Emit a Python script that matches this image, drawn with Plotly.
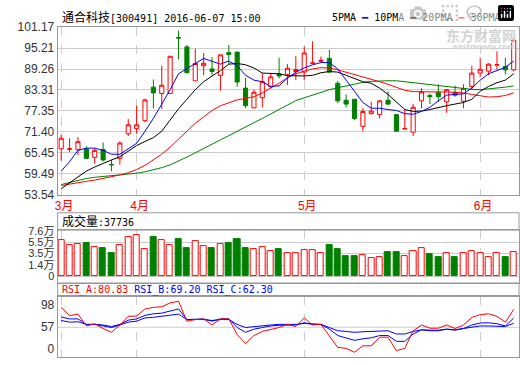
import plotly.graph_objects as go

# ---------------- data ----------------
dates = (
    ["2016-03-%02d" % d for d in [21, 22, 23, 24, 25, 28, 29, 30, 31]]
    + ["2016-04-%02d" % d for d in [1, 5, 6, 7, 8, 11, 12, 13, 14, 15, 18, 19, 20, 21, 22, 25, 26, 27, 28, 29]]
    + ["2016-05-%02d" % d for d in [3, 4, 5, 6, 9, 10, 11, 12, 13, 16, 17, 18, 19, 20, 23, 24, 25, 26, 27, 30, 31]]
    + ["2016-06-%02d" % d for d in [1, 2, 3, 6, 7]]
)

open_ = [66.56, 66.40, 66.29, 66.56, 64.11, 66.38, 62.10, 63.84, 70.84, 72.29,
         74.56, 84.10, 82.29, 82.29, 98.20, 95.56, 85.90, 90.20, 89.29, 87.47,
         93.92, 94.10, 83.83, 78.20, 81.10, 84.29, 87.83, 87.74, 88.56, 88.38,
         90.90, 91.47, 92.29, 85.20, 80.38, 80.65, 72.93, 76.56, 76.29, 80.38,
         76.29, 72.20, 71.29, 80.20, 81.74, 82.65, 79.92, 82.65, 80.11, 84.29,
         88.11, 88.65, 90.38, 90.02, 89.02]
high = [70.65, 69.56, 69.90, 67.29, 66.74, 68.38, 63.38, 68.65, 75.00, 78.83,
        80.83, 86.29, 90.20, 92.90, 100.20, 96.10, 95.00, 93.80, 92.65, 93.29,
        96.10, 94.10, 86.74, 83.38, 88.10, 87.92, 92.47, 90.65, 92.90, 95.65,
        97.20, 92.83, 94.74, 85.92, 82.02, 80.65, 78.10, 79.92, 80.47, 82.92,
        76.29, 77.74, 79.29, 83.83, 82.29, 84.92, 83.56, 84.56, 84.92, 90.20,
        92.47, 90.92, 94.29, 92.47, 97.47]
low = [63.20, 65.65, 64.74, 63.60, 62.29, 62.93, 60.20, 62.02, 70.20, 70.84,
       74.10, 78.10, 77.90, 82.20, 92.00, 88.10, 85.90, 87.47, 87.47, 83.10,
       90.65, 84.20, 78.10, 78.20, 78.38, 83.83, 86.56, 84.74, 86.10, 86.10,
       90.65, 91.10, 88.10, 79.56, 78.38, 74.74, 71.56, 76.29, 75.20, 79.02,
       71.38, 72.20, 70.20, 78.10, 79.29, 79.92, 76.83, 81.38, 78.10, 83.38,
       87.02, 87.47, 89.10, 87.74, 88.56]
close = [69.56, 66.56, 68.56, 63.84, 66.11, 63.38, 62.00, 68.20, 73.38, 73.38,
         80.47, 82.47, 84.65, 92.90, 98.10, 88.20, 90.83, 90.90, 88.56, 93.29,
         93.38, 85.56, 78.83, 82.65, 85.65, 87.02, 87.29, 89.47, 89.10, 93.83,
         91.00, 91.74, 88.38, 80.20, 79.29, 75.20, 77.20, 77.29, 80.20, 79.29,
         71.56, 72.29, 78.38, 82.74, 81.38, 81.38, 83.38, 81.83, 83.74, 88.11,
         89.20, 90.65, 90.47, 89.02, 97.47]

ma5 = [60.2, 62.9, 66.1, 66.74, 66.74, 66.1, 65.0, 65.0, 66.56, 68.1,
       71.56, 75.2, 79.29, 83.38, 87.92, 89.29, 90.83, 92.29, 91.56, 90.65,
       91.56, 90.2, 87.47, 86.1, 85.65, 84.29, 84.47, 86.7, 88.38, 89.56,
       90.47, 91.1, 91.1, 89.29, 86.1, 82.92, 79.74, 78.1, 78.1, 77.74,
       77.47, 76.56, 76.38, 77.2, 78.38, 80.2, 81.83, 82.02, 82.2, 83.83,
       86.1, 87.92, 88.83, 89.74, 91.56]
ma10 = [55.2, 56.8, 58.65, 60.2, 61.38, 62.47, 63.38, 64.29, 65.83, 67.47,
        68.65, 69.74, 71.56, 74.74, 77.92, 80.65, 83.38, 85.65, 87.2, 88.83,
        90.65, 90.83, 90.47, 89.56, 88.11, 87.92, 87.92, 87.38, 87.29, 87.29,
        87.47, 88.2, 88.56, 88.38, 87.47, 86.56, 85.65, 85.2, 83.83, 82.02,
        79.74, 77.74, 77.2, 77.29, 77.74, 78.38, 78.83, 79.29, 79.74, 80.65,
        82.92, 84.29, 85.38, 86.1, 87.92]
ma20 = [56.1, 56.56, 57.02, 57.29, 57.65, 58.11, 58.56, 59.11, 59.74, 60.65,
        61.84, 63.38, 65.02, 67.02, 69.29, 71.56, 73.83, 75.65, 77.47, 78.8,
        79.65, 80.47, 80.9, 81.4, 82.47, 83.83, 85.2, 86.8, 87.92, 88.65,
        89.29, 89.65, 89.56, 89.02, 88.38, 87.74, 87.02, 86.38, 85.65, 84.92,
        84.1, 83.2, 82.83, 82.74, 82.74, 82.74, 82.74, 82.65, 82.47, 82.02,
        81.56, 81.29, 81.38, 81.74, 82.47]
ma30 = [56.38, 57.0, 57.6, 58.1, 58.45, 58.65, 58.85, 59.05, 59.3, 59.6,
        60.0, 60.5, 61.2, 62.0, 63.0, 64.2, 65.4, 66.7, 67.9, 69.1,
        70.3, 71.6, 72.8, 74.0, 75.2, 76.4, 77.6, 79.0, 80.3, 81.1,
        81.83, 82.65, 83.38, 83.92, 84.47, 85.02, 85.47, 85.74, 85.92, 85.92,
        85.92, 85.65, 85.38, 85.02, 84.65, 84.38, 84.1, 83.83, 83.56, 83.47,
        83.38, 83.56, 83.74, 84.1, 84.47]

volume = [59300, 50640, 52360, 54680, 47160, 44270, 35610, 50640, 64500, 67970,
          43700, 65080, 59300, 50640, 61620, 44270, 58150, 48900, 44270, 52360,
          52950, 61620, 44270, 42550, 46010, 39070, 42550, 35610, 35610, 40810,
          40810, 35610, 49480, 42550, 30410, 30410, 32150, 26940, 28670, 37350,
          37350, 30410, 39070, 44270, 33870, 28670, 35030, 28670, 35030, 39070,
          35030, 28670, 35030, 28670, 37736]

rsi_a = [83.5, 72.4, 74.5, 58.7, 61.7, 55.3, 50.2, 60.0, 71.5, 71.9,
         81.4, 83.5, 84.3, 89.5, 91.6, 65.1, 67.2, 68.1, 60.0, 68.1,
         68.1, 47.2, 35.2, 45.9, 51.4, 54.0, 56.6, 60.8, 57.9, 69.4,
         60.0, 60.8, 45.9, 30.1, 28.8, 23.7, 32.2, 32.2, 43.7, 43.7,
         25.8, 28.8, 52.3, 60.0, 55.7, 55.7, 60.0, 55.3, 60.0, 70.2,
         73.7, 75.0, 71.5, 63.8, 80.83]
rsi_b = [70.7, 68.1, 68.1, 60.8, 60.8, 60.0, 57.9, 60.8, 66.4, 68.1,
         72.8, 74.9, 75.8, 78.8, 81.4, 67.2, 68.1, 68.1, 65.1, 68.1,
         68.1, 56.6, 50.2, 54.4, 56.6, 58.7, 59.6, 60.0, 60.0, 63.0,
         60.8, 60.8, 54.4, 45.9, 42.5, 39.5, 41.6, 42.9, 45.9, 45.9,
         38.2, 38.2, 48.0, 53.6, 52.3, 52.3, 54.4, 53.1, 55.3, 60.0,
         62.6, 63.0, 61.7, 58.7, 69.20]
rsi_c = [66.0, 63.8, 64.3, 60.8, 60.8, 58.7, 56.6, 60.0, 63.8, 65.1,
         69.4, 70.2, 71.5, 73.2, 74.5, 67.2, 67.2, 67.2, 66.0, 67.2,
         67.2, 60.8, 56.6, 57.9, 58.7, 60.0, 60.8, 60.8, 60.8, 62.1,
         61.7, 60.8, 56.6, 52.3, 51.4, 50.2, 51.0, 51.4, 52.3, 52.3,
         48.0, 48.0, 51.4, 53.6, 53.1, 53.1, 54.4, 53.6, 55.3, 57.5,
         58.7, 58.7, 57.9, 57.9, 62.30]

price_ticks = [53.54, 59.49, 65.45, 71.40, 77.35, 83.31, 89.26, 95.21, 101.17]
price_labels = ["53.54", "59.49", "65.45", "71.40", "77.35", "83.31", "89.26", "95.21", "101.17"]
month_ticks = ["2016-03-21", "2016-04-01", "2016-05-03", "2016-06-01"]
month_labels = ["3月", "4月", "5月", "6月"]
VOL_FLOOR = -6000          # value at the bottom of the volume bars (labelled "0")
vol_ticks = [VOL_FLOOR, 14000, 35000, 55000, 76000]
vol_labels = ["0", "1.4万", "3.5万", "5.5万", "7.6万"]
rsi_tick_pos = [28.8, 57, 86.5]
rsi_labels = ["0", "57", "98"]

title_name = "通合科技"
title_rest = "[300491] 2016-06-07 15:00"
vol_name = "成交量"
vol_last = "37736"

# ---------------- styling ----------------
W, H = 520, 365
RED, GREEN, BLUE, BLACK = "#ff0000", "#008000", "#0000ff", "#000000"
GRID, BORDER = "#cccccc", "#999999"
MONO = "DejaVu Sans Mono, Noto Sans CJK SC"
SANS = "Liberation Sans, Arial, Noto Sans CJK SC"


def fx(p):
    return p / W


def fy(p):
    return 1 - p / H


fig = go.Figure()

fig.add_trace(go.Candlestick(
    x=dates, open=open_, high=high, low=low, close=close,
    increasing=dict(line=dict(color=RED, width=1), fillcolor="white"),
    decreasing=dict(line=dict(color=GREEN, width=1), fillcolor=GREEN),
    whiskerwidth=0, xaxis="x", yaxis="y", showlegend=False, hoverinfo="skip"))

for vals, col in [(ma30, GREEN), (ma20, RED), (ma10, BLACK), (ma5, BLUE)]:
    fig.add_trace(go.Scatter(x=dates, y=vals, mode="lines",
                             line=dict(color=col, width=1),
                             xaxis="x", yaxis="y", showlegend=False, hoverinfo="skip"))

up = [c > o for o, c in zip(open_, close)]
fig.add_trace(go.Bar(
    x=dates, y=[v - VOL_FLOOR for v in volume], base=VOL_FLOOR, width=0.72,
    marker=dict(color=["white" if u else GREEN for u in up],
                line=dict(color=[RED if u else GREEN for u in up], width=1)),
    xaxis="x2", yaxis="y2", showlegend=False, hoverinfo="skip"))

for vals, col in [(rsi_c, BLUE), (rsi_b, BLUE), (rsi_a, RED)]:
    fig.add_trace(go.Scatter(x=dates, y=vals, mode="lines",
                             line=dict(color=col, width=1),
                             xaxis="x3", yaxis="y3", showlegend=False, hoverinfo="skip"))

xr = [-0.42, 54.63]
xcommon = dict(type="category", categoryorder="array", categoryarray=dates,
               range=xr, domain=[fx(55), fx(519)],
               tickvals=month_ticks, ticktext=month_labels, ticks="",
               showgrid=True, gridcolor=GRID, griddash="dash", gridwidth=1,
               showline=True, linecolor=BORDER, linewidth=1, mirror=True,
               zeroline=False, fixedrange=True)
ycommon = dict(ticks="", showline=True, linecolor=BORDER, linewidth=1, mirror=True,
               zeroline=False, fixedrange=True)
tickfont12 = dict(family=SANS, size=12, color="#333333")
tickfont11 = dict(family=SANS, size=11, color="#333333")

fig.update_layout(
    width=W, height=H, margin=dict(l=0, r=0, t=0, b=0),
    paper_bgcolor="white", plot_bgcolor="white",
    xaxis=dict(**xcommon, anchor="y", rangeslider=dict(visible=False),
               tickfont=dict(family=SANS, size=12, color=RED),
               ticklabelshift=3),
    xaxis2=dict(**xcommon, anchor="y2", showticklabels=False),
    xaxis3=dict(**xcommon, anchor="y3", showticklabels=False),
    yaxis=dict(**ycommon, domain=[fy(195), fy(21)], range=[53.54, 101.17],
               tickvals=price_ticks, ticktext=price_labels, tickfont=tickfont12,
               showgrid=True, gridcolor=GRID, anchor="x"),
    yaxis2=dict(**ycommon, domain=[fy(287), fy(232)], range=[-18135, 77214],
                tickvals=vol_ticks, ticktext=vol_labels, tickfont=tickfont11,
                showgrid=True, gridcolor=GRID, anchor="x2"),
    yaxis3=dict(**ycommon, domain=[fy(364), fy(301)], range=[17.26, 98.03],
                tickvals=rsi_tick_pos, ticktext=rsi_labels, tickfont=tickfont12,
                showgrid=False, anchor="x3"),
    bargap=0,
    shapes=[
        dict(type="rect", xref="paper", yref="paper", x0=fx(55), x1=fx(519),
             y0=fy(232), y1=fy(214), line=dict(color=BORDER, width=1)),
        dict(type="rect", xref="paper", yref="paper", x0=fx(55), x1=fx(519),
             y0=fy(301), y1=fy(287), line=dict(color=BORDER, width=1)),
        dict(type="line", xref="x3 domain", yref="y3", x0=0, x1=1, y0=57, y1=57,
             line=dict(color=GRID, width=1), layer="below"),
    ],
)

ann = []
ann.append(dict(xref="paper", yref="paper", x=fx(57), y=fy(11), xanchor="left", yanchor="middle",
                showarrow=False, font=dict(family=MONO, size=10, color="black"),
                text='<span style="font-size:12px">%s</span>%s' % (title_name, title_rest)))
legend_txt = " ".join('%s <span style="color:%s">━</span>' % (n, c) for n, c in
                      [("5PMA", BLUE), ("10PMA", BLACK), ("20PMA", RED), ("30PMA", GREEN)])
ann.append(dict(xref="paper", yref="paper", x=fx(516), y=fy(11), xanchor="right", yanchor="middle",
                showarrow=False, font=dict(family=MONO, size=10, color="black"), text=legend_txt))
ann.append(dict(xref="paper", yref="paper", x=fx(57), y=fy(223), xanchor="left", yanchor="middle",
                showarrow=False, font=dict(family=MONO, size=10, color="black"),
                text='<span style="font-size:12px">%s</span>:%s' % (vol_name, vol_last)))
rsi_txt = ('<span style="color:%s">RSI_A:%.2f</span> <span style="color:%s">RSI_B:%.2f</span> '
           '<span style="color:%s">RSI_C:%.2f</span>') % (RED, rsi_a[-1], BLUE, rsi_b[-1], BLUE, rsi_c[-1])
ann.append(dict(xref="paper", yref="paper", x=fx(57), y=fy(294), xanchor="left", yanchor="middle",
                showarrow=False, font=dict(family=MONO, size=10, color="black"), text=rsi_txt))
ann.append(dict(xref="paper", yref="paper", x=fx(518), y=fy(29), xanchor="right", yanchor="middle",
                showarrow=False, font=dict(family="Noto Sans CJK SC", size=14, color="#d4d4d4"),
                text="<b>东方财富网</b>"))
ann.append(dict(xref="paper", yref="paper", x=fx(517), y=fy(42), xanchor="right", yanchor="middle",
                showarrow=False, font=dict(family="DejaVu Sans", size=7, color="#d4d4d4"),
                text="<b>eastmoney.com</b>"))
fig.update_layout(annotations=ann)

fig.write_html("out.html",
               post_script="document.body.style.margin='0';document.body.style.padding='0';")
